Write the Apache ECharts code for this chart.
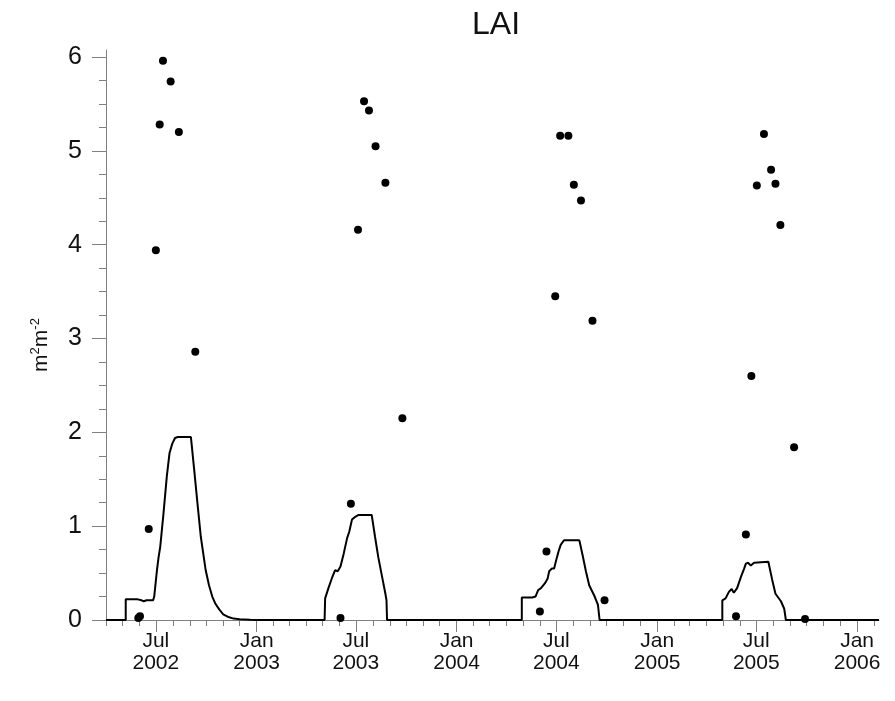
<!DOCTYPE html>
<html><head><meta charset="utf-8">
<script src="https://cdn.jsdelivr.net/npm/echarts@6/dist/echarts.min.js"></script>
<style>html,body{margin:0;padding:0;background:#fff}#c{width:895px;height:701px}</style>
</head><body><div id="c"></div>
<script>
// Observed LAI (dots)
const obsDates = ['2002-05-30','2002-06-02','2002-06-18','2002-07-01','2002-07-08','2002-07-14','2002-07-28','2002-08-12','2002-09-11',
  '2003-06-03','2003-06-22','2003-07-05','2003-07-16','2003-07-25','2003-08-06','2003-08-24','2003-09-24',
  '2004-06-01','2004-06-13','2004-06-29','2004-07-08','2004-07-23','2004-08-02','2004-08-15','2004-09-05','2004-09-27',
  '2005-05-25','2005-06-12','2005-06-22','2005-07-02','2005-07-15','2005-07-28','2005-08-05','2005-08-14','2005-09-08','2005-09-28'];
const obsValues = [0.02,0.04,0.97,3.94,5.28,5.96,5.74,5.20,2.86,
  0.02,1.24,4.16,5.53,5.43,5.05,4.66,2.15,
  0.09,0.73,3.45,5.16,5.16,4.64,4.47,3.19,0.21,
  0.04,0.91,2.60,4.63,5.18,4.80,4.65,4.21,1.84,0.01];

// Modelled LAI (line)
const modelDates = ['2002-04-01','2002-05-07','2002-05-07','2002-05-29','2002-06-01','2002-06-05','2002-06-09','2002-06-14','2002-06-26','2002-06-28',
  '2002-07-03','2002-07-06','2002-07-09','2002-07-15','2002-07-21','2002-07-26','2002-07-31','2002-08-05','2002-08-10','2002-09-03',
  '2002-09-09','2002-09-15','2002-09-21','2002-09-30','2002-10-06','2002-10-12','2002-10-18','2002-10-25','2002-11-01','2002-11-09',
  '2002-11-20','2002-12-01','2002-12-20','2003-01-01',
  '2003-05-05','2003-05-06','2003-05-12','2003-05-18','2003-05-24','2003-05-29','2003-06-03','2003-06-09','2003-06-15','2003-06-19',
  '2003-06-24','2003-06-30','2003-07-06','2003-07-30','2003-08-05','2003-08-11','2003-08-18','2003-08-24','2003-08-26','2003-08-27',
  '2004-04-29','2004-04-29','2004-05-18','2004-05-24','2004-05-29','2004-06-03','2004-06-05','2004-06-10','2004-06-15','2004-06-18',
  '2004-06-23','2004-06-27','2004-06-30','2004-07-05','2004-07-09','2004-07-15','2004-08-12','2004-08-18','2004-08-24','2004-08-30',
  '2004-09-09','2004-09-15','2004-09-18',
  '2005-04-30','2005-04-30','2005-05-06','2005-05-12','2005-05-17','2005-05-21','2005-05-27','2005-06-03','2005-06-09','2005-06-12',
  '2005-06-16','2005-06-21','2005-06-27','2005-07-23','2005-07-30','2005-08-05','2005-08-15','2005-08-21','2005-08-24','2006-02-10'];
const modelValues = [0,0,0.22,0.22,0.23,0.21,0.20,0.21,0.21,0.25,
  0.53,0.67,0.78,1.14,1.53,1.78,1.88,1.94,1.95,1.95,
  1.60,1.24,0.89,0.53,0.37,0.25,0.17,0.11,0.06,0.035,
  0.015,0.008,0.002,0,
  0,0.23,0.34,0.44,0.53,0.52,0.57,0.71,0.87,0.94,
  1.07,1.10,1.12,1.12,0.89,0.67,0.46,0.28,0.21,0,
  0,0.24,0.24,0.25,0.32,0.34,0.32,0.39,0.44,0.52,
  0.55,0.55,0.62,0.73,0.80,0.85,0.85,0.69,0.52,0.37,
  0.25,0.16,0,
  0,0.21,0.23,0.30,0.33,0.29,0.34,0.46,0.55,0.60,
  0.61,0.58,0.61,0.62,0.43,0.28,0.20,0.12,0,0];

const xTickDates = ['2002-07-01','2003-01-01','2003-07-01','2004-01-01','2004-07-01','2005-01-01','2005-07-01','2006-01-01'];
const xTickLabels = ['Jul\n2002','Jan\n2003','Jul\n2003','Jan\n2004','Jul\n2004','Jan\n2005','Jul\n2005','Jan\n2006'];
const yTickValues = [0,1,2,3,4,5,6];
const xStart = '2002-04-01', xEnd = '2006-02-10';

const ts = s => Date.parse(s);
const xMin = ts(xStart), xMax = ts(xEnd);
const majorTs = xTickDates.map(ts);
const labelMap = {};
majorTs.forEach((t, i) => { labelMap[t] = xTickLabels[i]; });
const monthTs = [];
for (let y = 2002; y <= 2006; y++) for (let m = 0; m < 12; m++) {
  const t = Date.UTC(y, m, 1);
  if (t >= xMin && t <= xMax) monthTs.push(t);
}
const yMinor = [];
for (let v = 0; v <= 6.0001; v += 0.25) yMinor.push(+v.toFixed(2));

const axisGray = '#7f7f7f';
const txt = '#111';
const font = 'Liberation Sans, Arial, sans-serif';

const chart = echarts.init(document.getElementById('c'));
chart.setOption({
  animation: false,
  backgroundColor: '#fff',
  title: { text: 'LAI', left: 467, top: 4, textStyle: { fontSize: 32, fontWeight: 'normal', color: txt, fontFamily: font } },
  grid: { left: 106, right: 16, top: 50, bottom: 81, containLabel: false },
  xAxis: [{
    type: 'value', min: xMin, max: xMax, position: 'bottom',
    axisLine: { show: true, lineStyle: { color: axisGray, width: 1 } },
    axisTick: { show: true, customValues: majorTs, length: 12, lineStyle: { color: axisGray } },
    axisLabel: { customValues: majorTs, formatter: v => labelMap[v] || '', fontSize: 21, lineHeight: 22, margin: 10, color: txt, fontFamily: font },
    splitLine: { show: false }
  }, {
    type: 'value', min: xMin, max: xMax, position: 'bottom',
    axisLine: { show: false },
    axisTick: { show: true, customValues: monthTs, length: 6, lineStyle: { color: axisGray } },
    axisLabel: { show: false },
    splitLine: { show: false }
  }],
  yAxis: [{
    type: 'value', min: 0, max: 6.075, position: 'left',
    name: '{a|m}{s|2}{a|m}{s|-2}', nameLocation: 'middle', nameGap: 53, nameRotate: 90,
    nameTextStyle: { padding: [0, 20, 0, 0], rich: {
      a: { fontSize: 21, lineHeight: 24, color: txt, fontFamily: font },
      s: { fontSize: 13, lineHeight: 13, verticalAlign: 'top', color: txt, fontFamily: font }
    } },
    axisLine: { show: true, lineStyle: { color: axisGray, width: 1 } },
    axisTick: { show: true, customValues: yTickValues, length: 14, lineStyle: { color: axisGray } },
    axisLabel: { customValues: yTickValues, fontSize: 25, margin: 24, color: txt, fontFamily: font },
    splitLine: { show: false }
  }, {
    type: 'value', min: 0, max: 6.075, position: 'left',
    axisLine: { show: false },
    axisTick: { show: true, customValues: yMinor, length: 7, lineStyle: { color: axisGray } },
    axisLabel: { show: false },
    splitLine: { show: false }
  }],
  series: [{
    type: 'line', xAxisIndex: 0, yAxisIndex: 0,
    data: modelDates.map((d, i) => [ts(d), modelValues[i]]),
    showSymbol: false, symbol: 'none', smooth: false,
    lineStyle: { color: '#000', width: 2 }, z: 3
  }, {
    type: 'scatter', xAxisIndex: 0, yAxisIndex: 0,
    data: obsDates.map((d, i) => [ts(d), obsValues[i]]),
    symbol: 'circle', symbolSize: 8,
    itemStyle: { color: '#000', opacity: 1 }, z: 4
  }]
});
</script>
</body></html>
